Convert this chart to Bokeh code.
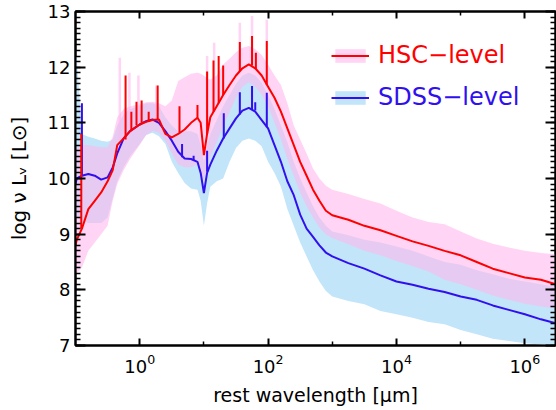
import numpy as np
from bokeh.plotting import figure
from bokeh.models import (Range1d, FixedTicker, LogAxis, LinearAxis,
                          Legend, LegendItem)
from bokeh.embed import file_html
from bokeh.resources import INLINE

# ---------------- data (log10 of rest wavelength in micron) ----------------
log_wave = [-1.0, -0.98, -0.9, -0.8, -0.7, -0.6, -0.5, -0.42, -0.35, -0.25,
            -0.15, 0.0, 0.1, 0.2, 0.3, 0.4, 0.5, 0.6, 0.7, 0.8,
            0.9, 0.95, 1.0, 1.05, 1.1, 1.2, 1.3, 1.4, 1.5, 1.6,
            1.7, 1.8, 1.9, 2.0, 2.1, 2.2, 2.3, 2.4, 2.5, 2.6,
            2.7, 2.8, 2.9, 3.0, 3.25, 3.5, 3.75, 4.0, 4.25, 4.5,
            4.75, 5.0, 5.25, 5.5, 5.75, 6.0, 6.25, 6.48]

hsc_median = [8.8, 8.9, 9.1, 9.45, 9.6, 9.75, 9.95, 10.15, 10.6, 10.72,
              10.85, 10.97, 11.02, 11.05, 11.06, 10.8, 10.74, 10.8, 10.88, 11.0,
              11.09, 11.0, 10.42, 10.8, 11.1, 11.3, 11.5, 11.68, 11.85, 11.98,
              12.05, 11.98, 11.85, 11.65, 11.45, 11.2, 10.9, 10.6, 10.3, 10.05,
              9.8, 9.6, 9.42, 9.34, 9.26, 9.15, 9.07, 8.97, 8.87, 8.79,
              8.7, 8.62, 8.5, 8.38, 8.3, 8.22, 8.18, 8.1]
hsc_upper = [10.5, 10.55, 10.6, 10.6, 10.58, 10.56, 10.56, 10.75, 11.1, 11.25,
             11.3, 11.33, 11.37, 11.38, 11.35, 11.3, 11.4, 11.75, 11.82, 11.88,
             11.9, 11.88, 11.85, 11.8, 11.78, 11.85, 12.05, 12.15, 12.27, 12.35,
             12.38, 12.32, 12.22, 12.05, 11.85, 11.68, 11.35, 10.95, 10.7, 10.45,
             10.18, 10.0, 9.87, 9.8, 9.72, 9.63, 9.55, 9.42, 9.3, 9.22,
             9.18, 9.05, 8.92, 8.83, 8.76, 8.7, 8.66, 8.64]
hsc_lower = [8.3, 8.3, 8.4, 8.7, 8.85, 9.0, 9.15, 9.6, 9.9, 10.15,
             10.35, 10.6, 10.78, 10.86, 10.82, 10.68, 10.45, 10.25, 10.2, 10.2,
             10.25, 10.1, 9.95, 10.2, 10.4, 10.65, 10.95, 11.2, 11.45, 11.65,
             11.73, 11.65, 11.5, 11.3, 11.0, 10.7, 10.35, 10.05, 9.75, 9.5,
             9.3, 9.12, 9.0, 8.93, 8.82, 8.7, 8.62, 8.52, 8.43, 8.33,
             8.18, 8.1, 8.0, 7.9, 7.82, 7.75, 7.7, 7.67]

sdss_median = [9.9, 10.0, 10.05, 10.08, 10.05, 9.98, 10.02, 10.2, 10.45, 10.72,
               10.85, 10.97, 11.03, 11.06, 11.0, 10.85, 10.68, 10.48, 10.36, 10.35,
               10.3, 10.1, 9.74, 10.1, 10.25, 10.5, 10.72, 10.9, 11.08, 11.22,
               11.27, 11.2, 11.05, 10.9, 10.6, 10.3, 9.95, 9.7, 9.35, 9.1,
               8.95, 8.8, 8.67, 8.6, 8.48, 8.38, 8.26, 8.15, 8.09, 8.02,
               7.96, 7.88, 7.82, 7.72, 7.64, 7.56, 7.47, 7.4]
sdss_upper = [12.2, 12.2, 10.8, 10.75, 10.72, 10.68, 10.66, 10.7, 10.95, 11.15,
              11.25, 11.3, 11.35, 11.35, 11.3, 11.1, 10.95, 10.85, 10.85, 10.85,
              10.8, 10.6, 10.3, 10.6, 10.8, 11.05, 11.3, 11.5, 11.7, 11.85,
              11.9, 11.85, 11.72, 11.5, 11.25, 10.95, 10.65, 10.3, 10.0, 9.75,
              9.5, 9.3, 9.15, 9.05, 8.98, 8.9, 8.85, 8.78, 8.7, 8.6,
              8.5, 8.45, 8.35, 8.28, 8.2, 8.15, 8.1, 8.05]
sdss_lower = [9.3, 9.3, 9.25, 9.2, 9.2, 9.2, 9.3, 9.65, 9.95, 10.2,
              10.4, 10.62, 10.78, 10.82, 10.76, 10.62, 10.3, 10.1, 9.92, 9.82,
              9.8, 9.6, 9.15, 9.55, 9.85, 9.95, 10.0, 10.3, 10.55, 10.68,
              10.72, 10.68, 10.58, 10.3, 10.1, 9.85, 9.45, 9.15, 8.85, 8.6,
              8.35, 8.15, 7.98, 7.88, 7.8, 7.74, 7.62, 7.56, 7.5, 7.42,
              7.38, 7.28, 7.2, 7.12, 7.08, 7.04, 7.02, 7.0]

# emission lines (log10 wavelength, continuum level, line peak)
hsc_line_wave = [-0.91, -0.22, -0.13, -0.05, 0.03, 0.14, 0.28, 0.62, 0.9,
                 1.05, 1.15, 1.23, 1.3, 1.56, 1.75, 1.81, 1.98]
hsc_line_base = [9.1, 10.7, 10.87, 10.95, 11.0, 11.03, 11.06, 10.82, 11.09,
                 10.8, 11.2, 11.35, 11.5, 11.93, 12.03, 11.97, 11.68]
hsc_line_peak = [10.8, 11.85, 11.2, 11.38, 11.4, 11.2, 11.67, 11.3, 11.32,
                 11.92, 12.12, 12.2, 12.03, 12.45, 12.56, 12.26, 12.47]
hsc_band_line_wave = [-0.31, -0.16, -0.02, 0.26, 1.05, 1.16, 1.56, 1.75, 1.98]
hsc_band_line_base = [10.65, 10.85, 10.97, 11.06, 10.8, 11.2, 11.93, 12.03, 11.68]
hsc_band_line_peak = [12.17, 11.9, 11.85, 11.67, 12.2, 12.44, 12.8, 12.92, 12.85]

sdss_line_wave = [-0.9, 0.66, 0.84, 1.05, 1.31, 1.56, 1.75, 1.8, 1.98]
sdss_line_base = [10.05, 10.38, 10.33, 10.12, 10.72, 11.15, 11.25, 11.22, 10.92]
sdss_line_peak = [11.35, 10.62, 10.41, 10.5, 11.17, 11.55, 11.66, 11.37, 11.54]

x_major_ticks = [1, 1e2, 1e4, 1e6]
x_minor_ticks = [1e1, 1e3, 1e5]
y_major_ticks = [7, 8, 9, 10, 11, 12, 13]
y_minor_ticks = [round(7 + 0.1 * i, 1) for i in range(61)]

series_labels = ["HSC\u2212level", "SDSS\u2212level"]
x_title = "rest wavelength [\u03bcm]"
y_title = "log \u03bd L\u1d65 [L\u2299]"

# ---------------- styling ----------------
FONT = "DejaVu Sans"
RED = "#ff0000"
BLUE = "#3010ee"
LIGHT_BLUE = "#c2e5fa"
PINK = "#ffb8ec"
PINK_ALPHA = 0.6

wave = 10.0 ** np.array(log_wave)

p = figure(width=556, height=410, x_axis_type="log",
           x_range=Range1d(0.1, 3e6), y_range=Range1d(7, 13),
           output_backend="svg", toolbar_location=None,
           min_border_left=75, min_border_right=1,
           min_border_top=11, min_border_bottom=65)
p.grid.visible = False
p.outline_line_color = "black"
p.outline_line_width = 2
p.background_fill_color = "white"
p.border_fill_color = "white"

sdss_band = p.varea(x=wave, y1=sdss_lower, y2=sdss_upper,
                    fill_color=LIGHT_BLUE, fill_alpha=1.0)
hsc_band = p.varea(x=wave, y1=hsc_lower, y2=hsc_upper,
                   fill_color=PINK, fill_alpha=PINK_ALPHA)

bw = 10.0 ** np.array(hsc_band_line_wave)
p.segment(x0=bw, y0=hsc_band_line_base, x1=bw, y1=hsc_band_line_peak,
          line_color=PINK, line_alpha=PINK_ALPHA, line_width=2.5)

sdss_r = p.line(wave, sdss_median, line_color=BLUE, line_width=2)
sw = 10.0 ** np.array(sdss_line_wave)
p.segment(x0=sw, y0=sdss_line_base, x1=sw, y1=sdss_line_peak,
          line_color=BLUE, line_width=2)

hsc_r = p.line(wave, hsc_median, line_color=RED, line_width=2)
hw = 10.0 ** np.array(hsc_line_wave)
p.segment(x0=hw, y0=hsc_line_base, x1=hw, y1=hsc_line_peak,
          line_color=RED, line_width=2)


def style_axis(ax, major_len, minor_len, show_labels):
    ax.major_tick_in = major_len
    ax.major_tick_out = 0
    ax.minor_tick_in = minor_len
    ax.minor_tick_out = 0
    ax.axis_line_width = 2
    ax.axis_line_color = "black"
    ax.major_tick_line_width = 2
    ax.minor_tick_line_width = 1.5
    ax.major_tick_line_color = "black"
    ax.minor_tick_line_color = "black"
    ax.major_label_text_font = FONT
    ax.major_label_text_color = "black"
    ax.major_label_text_font_size = "18px"
    ax.axis_label_text_font = FONT
    ax.axis_label_text_font_style = "normal"
    ax.axis_label_text_color = "black"
    if not show_labels:
        ax.major_label_text_alpha = 0
        ax.major_label_text_font_size = "2px"
        ax.major_label_standoff = 0


xax = p.xaxis[0]
xax.ticker = FixedTicker(ticks=x_major_ticks, minor_ticks=x_minor_ticks)
style_axis(xax, 7, 4, True)
xax.major_label_standoff = 8
xax.axis_label = x_title
xax.axis_label_text_font_size = "19px"
xax.axis_label_standoff = 8

yax = p.yaxis[0]
yax.ticker = FixedTicker(ticks=y_major_ticks, minor_ticks=y_minor_ticks)
style_axis(yax, 10, 5, True)
yax.major_label_standoff = 5
yax.major_label_orientation = "horizontal"
yax.axis_label = y_title
yax.axis_label_text_font_size = "20px"
yax.axis_label_standoff = 14

top = LogAxis(ticker=FixedTicker(ticks=x_major_ticks, minor_ticks=x_minor_ticks))
style_axis(top, 7, 4, False)
p.add_layout(top, "above")

right = LinearAxis(ticker=FixedTicker(ticks=y_major_ticks, minor_ticks=y_minor_ticks))
style_axis(right, 10, 5, False)
p.add_layout(right, "right")

# legends
leg1 = Legend(items=[LegendItem(label=series_labels[0], renderers=[hsc_band, hsc_r])],
              location=(256, 276))
leg2 = Legend(items=[LegendItem(label=series_labels[1], renderers=[sdss_band, sdss_r])],
              location=(256, 234))
for lg, col in ((leg1, RED), (leg2, BLUE)):
    lg.label_text_color = col
    lg.label_text_font = FONT
    lg.label_text_font_size = "24px"
    lg.glyph_width = 38
    lg.glyph_height = 17
    lg.label_standoff = 9
    lg.padding = 0
    lg.margin = 0
    lg.spacing = 0
    lg.border_line_alpha = 0
    lg.background_fill_alpha = 0
    p.add_layout(lg, "center")

open("out.html", "w").write(file_html(p, INLINE))
